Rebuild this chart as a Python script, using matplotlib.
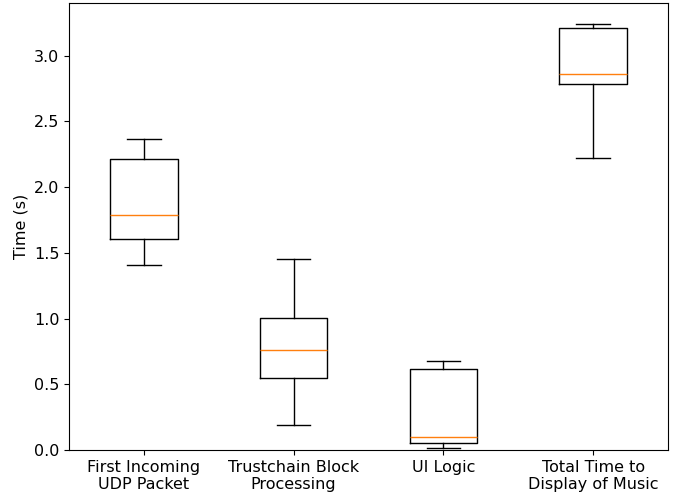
import matplotlib
matplotlib.use("Agg")
import matplotlib.pyplot as plt

labels = ["First Incoming\nUDP Packet", "Trustchain Block\nProcessing", "UI Logic", "Total Time to\nDisplay of Music"]
whislo = [1.409, 0.19, 0.018, 2.219]
q1 = [1.605, 0.548, 0.050, 2.788]
med = [1.788, 0.762, 0.100, 2.858]
q3 = [2.214, 1.005, 0.615, 3.209]
whishi = [2.369, 1.455, 0.680, 3.240]

plt.rcParams['font.size'] = 11.5

stats = []
for i in range(len(labels)):
    stats.append(dict(label=labels[i], whislo=whislo[i], q1=q1[i], med=med[i],
                      q3=q3[i], whishi=whishi[i], fliers=[]))

fig = plt.figure(figsize=(6.79, 4.98), dpi=100)
ax = fig.add_axes([0.1016, 0.0964, 0.8822, 0.8976])
ax.bxp(stats, showfliers=False)
ax.set_ylabel("Time (s)")
ax.set_ylim(bottom=0)
fig.savefig("out.png", dpi=100)
